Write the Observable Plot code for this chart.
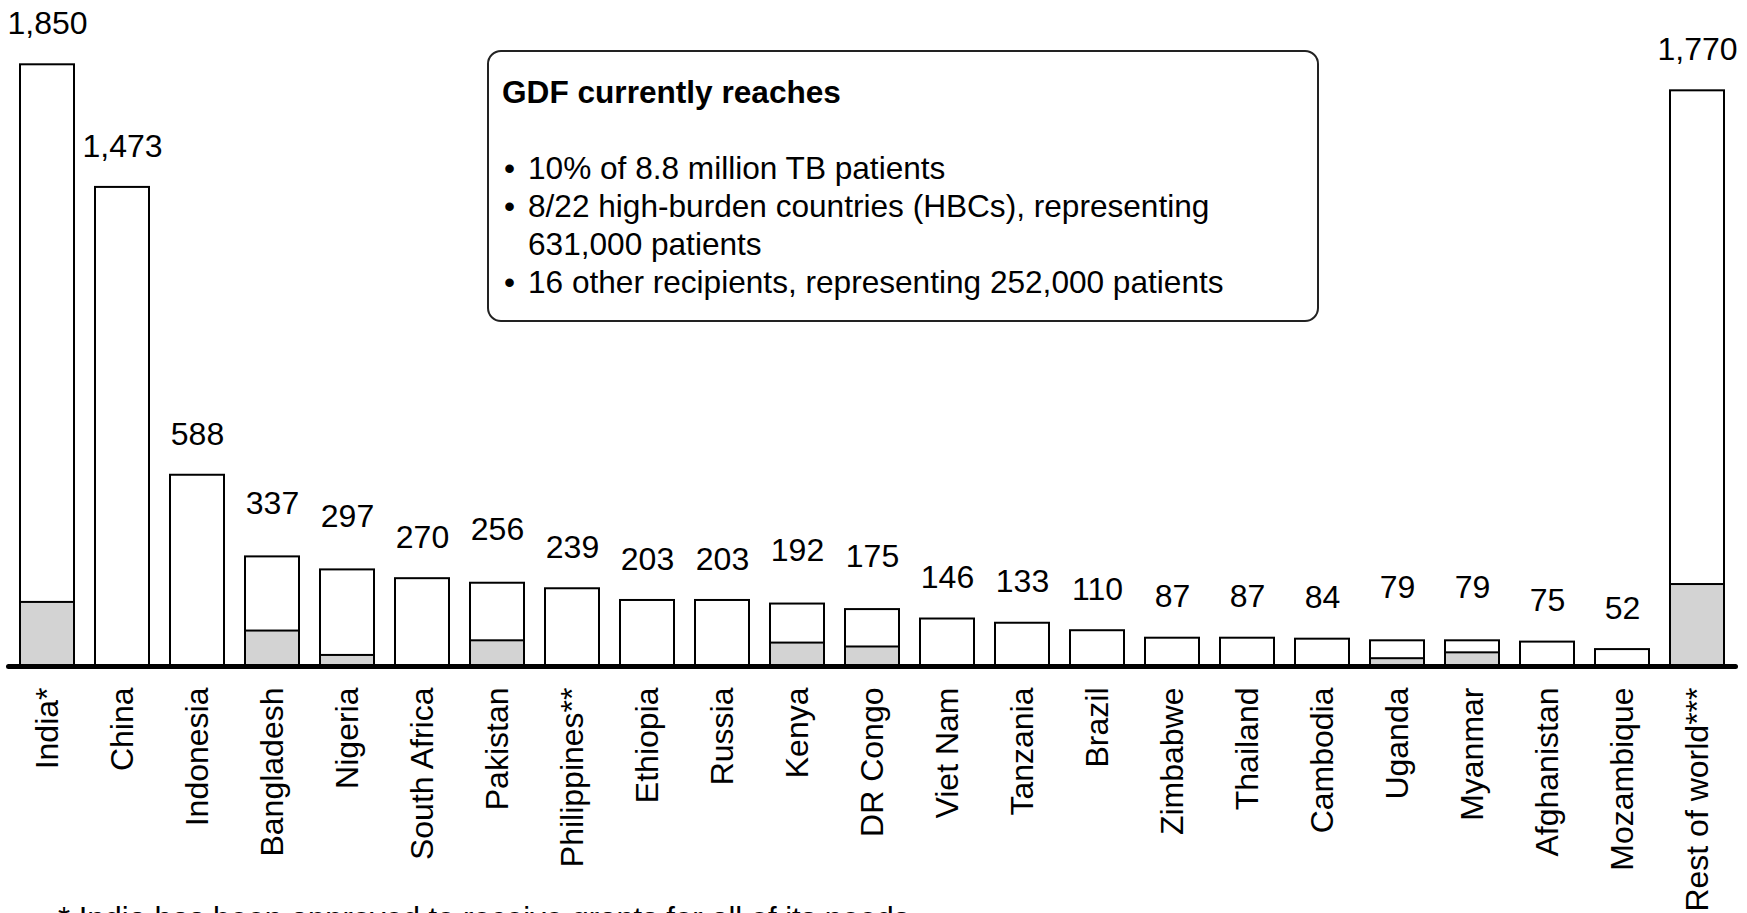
<!DOCTYPE html>
<html>
<head>
<meta charset="utf-8">
<script src="https://cdn.jsdelivr.net/npm/d3@7"></script>
<script src="https://cdn.jsdelivr.net/npm/@observablehq/plot@0.6"></script>
<style>
  html, body { margin: 0; padding: 0; background: #fff; overflow: hidden; }
  #wrap { position: relative; width: 1747px; height: 913px; font-family: "Liberation Sans", Arial, sans-serif; color: #000; }
  #chart { position: absolute; left: 0; top: 0; }
  #box { position: absolute; left: 487px; top: 50px; width: 832px; height: 272px; box-sizing: border-box;
         border: 2px solid #222; border-radius: 14px; font-size: 31.6px; line-height: 38px; }
  #box .h { position: absolute; left: 13px; top: 21px; font-weight: bold; white-space: nowrap; }
  #box ul { position: absolute; left: 0; top: 97px; margin: 0; padding: 0; list-style: none; }
  #box li { position: relative; padding-left: 39px; white-space: nowrap; }
  #box li::before { content: "\2022"; position: absolute; left: 15px; }
  #caption { position: absolute; left: 58px; top: 903px; font-size: 31px; line-height: 31px; white-space: nowrap; }
</style>
</head>
<body>
<div id="wrap">
  <div id="chart"></div>
  <div id="box">
    <div class="h">GDF currently reaches</div>
    <ul>
      <li>10% of 8.8 million TB patients</li>
      <li>8/22 high-burden countries (HBCs), representing<br>631,000 patients</li>
      <li>16 other recipients, representing 252,000 patients</li>
    </ul>
  </div>
  <div id="caption">* India has been approved to receive grants for all of its needs</div>
</div>
<script>
// Countries (x categories)
const countries = ["India*", "China", "Indonesia", "Bangladesh", "Nigeria", "South Africa", "Pakistan",
  "Philippines**", "Ethiopia", "Russia", "Kenya", "DR Congo", "Viet Nam", "Tanzania", "Brazil",
  "Zimbabwe", "Thailand", "Cambodia", "Uganda", "Myanmar", "Afghanistan", "Mozambique", "Rest of world***"];
// Total TB patients (thousands)
const totals = [1850, 1473, 588, 337, 297, 270, 256, 239, 203, 203, 192, 175, 146, 133, 110,
  87, 87, 84, 79, 79, 75, 52, 1770];
// Patients reached by GDF (thousands, read from grey segments)
const gdfReached = [197, 0, 0, 109, 34, 0, 79, 0, 0, 0, 72, 60, 0, 0, 0,
  0, 0, 0, 24, 42, 0, 0, 252];

const data = countries.map((c, i) => ({country: c, total: totals[i], gdf: gdfReached[i]}));
const fmt = d3.format(",");
// labels of the smaller stacked (GDF-reached) bars sit a little higher
const labelLift = d => (d.gdf > 0 && d.total < 1000 ? 12 : 0);

const chart = Plot.plot({
  width: 1747,
  height: 913,
  marginLeft: 18,
  marginRight: 21,
  marginTop: 64.3,
  marginBottom: 247,
  x: {domain: countries, paddingInner: 0.28, paddingOuter: 0, axis: null},
  y: {domain: [0, 1850], axis: null},
  style: {fontFamily: "Liberation Sans, Arial, sans-serif", background: "white", overflow: "visible"},
  marks: [
    Plot.barY(data, {x: "country", y: "total", fill: "white", stroke: "black", strokeWidth: 2}),
    Plot.barY(data.filter(d => d.gdf > 0), {x: "country", y: "gdf", fill: "#d3d3d3", stroke: "black", strokeWidth: 2}),
    Plot.ruleY([0], {stroke: "black", strokeWidth: 5, strokeLinecap: "round", insetLeft: -9.5, insetRight: -9.5}),
    Plot.text(data.filter(d => labelLift(d) === 0), {x: "country", y: "total", text: d => fmt(d.total), dy: -41, fontSize: 32, fill: "black"}),
    Plot.text(data.filter(d => labelLift(d) > 0), {x: "country", y: "total", text: d => fmt(d.total), dy: -53, fontSize: 32, fill: "black"}),
    Plot.text(data, {x: "country", y: 0, text: "country", rotate: -90, textAnchor: "end", dy: 21, fontSize: 32, fill: "black"})
  ]
});
document.getElementById("chart").appendChild(chart);
</script>
</body>
</html>
